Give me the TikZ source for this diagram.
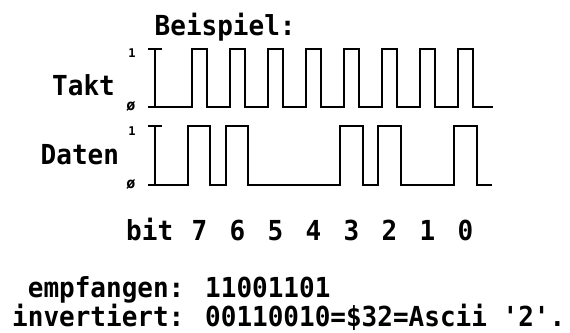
\documentclass[tikz,border=0pt]{standalone}
\usepackage{fontspec}
\newfontfamily\pixmono{DejaVu Sans Mono}
\tikzset{
  lbl/.style={inner sep=0pt, anchor=base west, font=\pixmono\bfseries\fontsize{26}{26}\selectfont},
  bitno/.style={inner sep=0pt, anchor=base, font=\pixmono\bfseries\fontsize{26}{26}\selectfont},
  lvl/.style={inner sep=0pt, font=\pixmono\bfseries\fontsize{12}{12}\selectfont},
  wave/.style={line width=1.6pt, line join=miter, line cap=rect}
}
\newcommand\tall[1]{\scalebox{1}[1.06]{#1}}
\begin{document}
\begin{tikzpicture}[x=1pt, y=-1pt]
  \useasboundingbox (0,0) rectangle (570,332);

  % title and signal names
  \node[lbl] (title) at (154.5,35) {\tall{Beispiel:}};
  \node[lbl] (takt) at (52,95) {\tall{Takt}};
  \node[lbl] (daten) at (40.5,164) {\tall{Daten}};

  % level marks
  \node[lvl] (t1) at (132,53) {1};
  \node[lvl, font=\pixmono\bfseries\fontsize{15}{15}\selectfont] (t0) at (131,106) {ø};
  \node[lvl] (d1) at (132,131) {1};
  \node[lvl, font=\pixmono\bfseries\fontsize{15}{15}\selectfont] (d0) at (131,184) {ø};

  % clock signal
  \draw[wave] (149,49) -- (161,49);
  \draw[wave] (155,49) -- (155,107);
  \draw[wave] (149,107)
    \foreach \k in {0,...,7}{ -- ({192+38*\k},107) -- ({192+38*\k},49)
                              -- ({207+38*\k},49) -- ({207+38*\k},107)}
    -- (492,107);

  % data signal
  \draw[wave] (149,126) -- (161,126);
  \draw[wave] (155,126) -- (155,185);
  \draw[wave] (149,185)
    \foreach \a/\b in {188/210, 226/248, 340/363, 378/401, 454/477}{
      -- (\a,185) -- (\a,126) -- (\b,126) -- (\b,185)}
    -- (491,185);

  % bit numbers under the clock pulses
  \node[lbl] (bitlbl) at (126,240) {\tall{bit}};
  \foreach \b [count=\i from 0] in {7,6,5,4,3,2,1,0}
    \node[bitno] (bit\b) at ({199.5+38*\i},240) {\tall{\b}};

  % decoded result
  \node[lbl] (recv) at (12,297) {\tall{\hphantom{e}empfangen: 11001101}};
  \node[lbl] (inv) at (12,326) {\tall{invertiert: 00110010=\$32=Ascii \textquotesingle2\textquotesingle.}};
\end{tikzpicture}
\end{document}
